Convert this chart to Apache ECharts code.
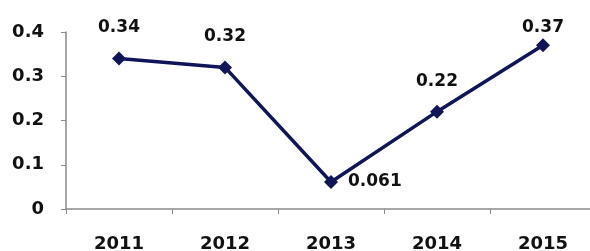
<!DOCTYPE html>
<html>
<head>
<meta charset="utf-8">
<script src="https://cdn.jsdelivr.net/npm/echarts@6/dist/echarts.min.js"></script>
<style>
  html, body { margin: 0; padding: 0; background: #fff; }
  #chart { width: 590px; height: 251px; }
</style>
</head>
<body>
<div id="chart"></div>
<script>
// 資料
const years = ['2011', '2012', '2013', '2014', '2015']
const values = [0.34, 0.32, 0.061, 0.22, 0.37]
const yTicks = [0, 0.1, 0.2, 0.3, 0.4]

const labelFont = { fontFamily: 'DejaVu Sans', fontWeight: 'bold', color: '#111' }

// 每個點的標籤位置
const pointData = values.map((v, i) => {
  const item = { value: v }
  if (i === 2) {
    item.label = { position: 'right', distance: 10 }
  } else if (i === 4) {
    item.label = { position: 'top', distance: 2 }
  } else {
    item.label = { position: 'top', distance: 15 }
  }
  return item
})

const chart = echarts.init(document.getElementById('chart'))
chart.setOption({
  animation: false,
  backgroundColor: '#fff',
  grid: { left: 66, width: 530, top: 32, bottom: 42, containLabel: false, outerBoundsMode: 'none' },
  xAxis: {
    type: 'category',
    data: years,
    boundaryGap: true,
    axisLine: { lineStyle: { color: '#8a8a8a', width: 1.5 } },
    axisTick: { show: true, length: 5, lineStyle: { color: '#8a8a8a' } },
    axisLabel: { ...labelFont, fontSize: 18, margin: 26 }
  },
  yAxis: {
    type: 'value',
    min: 0,
    max: 0.4,
    interval: 0.1,
    splitLine: { show: false },
    axisLine: { show: true, lineStyle: { color: '#8a8a8a', width: 1.5 } },
    axisTick: { show: true, length: 5, lineStyle: { color: '#8a8a8a' } },
    axisLabel: {
      ...labelFont,
      fontSize: 18,
      margin: 22,
      formatter: v => {
        const t = yTicks.find(x => Math.abs(x - v) < 1e-9)
        return t === undefined ? '' : String(t)
      }
    }
  },
  series: [
    {
      type: 'line',
      data: pointData,
      symbol: 'diamond',
      symbolSize: 14,
      lineStyle: { color: '#10155a', width: 3.5 },
      itemStyle: { color: '#10155a' },
      label: {
        show: true,
        ...labelFont,
        fontSize: 17,
        formatter: p => String(p.value)
      }
    }
  ]
})
</script>
</body>
</html>
